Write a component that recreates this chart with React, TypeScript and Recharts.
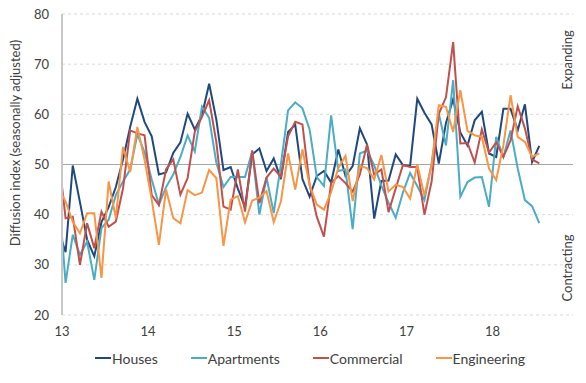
import { LineChart, Line, XAxis, YAxis, CartesianGrid, ReferenceLine, Legend } from 'recharts';

document.body.style.margin = '0';

const font = 'Lato, "Open Sans", sans-serif';
const textColor = '#404040';

// monthly diffusion index readings, first entry is Dec 2012 (just left of the axis, clipped)
const houses = [
  37, 32.5, 49.8, 42.5, 35, 31.7, 38.5, 41.5, 45.5, 51, 57.5, 63.1, 58.5,
  55.6, 48, 48.4, 52.3, 54.4, 60.1, 57, 59.8, 66.1, 59, 48.9, 49.5,
  45.2, 41.5, 52, 53.2, 48.7, 51.2, 47.1, 56.5, 57.9, 47.1, 43.6, 47.7,
  48.7, 46.4, 53, 47.7, 49.7, 57.2, 54, 39.2, 46.7, 46.8, 52, 49.9,
  49.7, 63.1, 60.3, 58, 50.2, 58.3, 63, 56.4, 53.8, 58.8, 60.5, 52.2,
  51.5, 61.1, 61.1, 56.8, 62, 50.5, 53.7,
];
const apartments = [
  45, 26.4, 36, 32, 34.6, 27, 37.3, 39, 43.9, 46.6, 49, 56, 52.5,
  47, 42, 45.5, 48, 51.5, 55.8, 52.6, 61.5, 59.3, 50.4, 45.5, 47.5,
  47.5, 47.5, 52.6, 40, 47.4, 40.3, 50, 60.8, 62.4, 61.2, 57, 47.5,
  45.7, 59.8, 48.7, 49, 37.1, 52.2, 52.8, 49.8, 45.8, 42.4, 39.4, 44.4,
  48.3, 45.7, 42.9, 50.2, 60.1, 53.8, 66.8, 43.6, 46.5, 47.4, 47.5, 41.6,
  55.5, 51.5, 56.8, 49.2, 42.9, 41.7, 38.3,
];
const commercial = [
  52, 39.3, 39.6, 30, 38.3, 33.3, 40.6, 37.6, 38.6, 45.2, 56.8, 56.2, 55.8,
  43.9, 41.9, 49, 51, 44, 47.3, 56.5, 59.5, 62.8, 54.5, 41.6, 41,
  49, 40.6, 52.8, 42.3, 47.4, 49.2, 47.5, 55.6, 58.5, 58, 46, 39.6,
  35.6, 46.3, 47.7, 46.3, 44.6, 48, 54, 48, 49, 40.5, 45.2, 49.9,
  49.5, 49.5, 40, 46.6, 60.1, 63.4, 74.4, 54.2, 54.3, 50.4, 57, 52.4,
  54.4, 51.5, 54.8, 61.6, 57.2, 51, 50.2,
];
const engineering = [
  45.5, 42.6, 38.6, 36.3, 40.3, 40.3, 27.4, 46.6, 39.3, 53.5, 48.5, 57.5, 51,
  43, 34, 45, 39.3, 38.3, 44.9, 43.9, 44.4, 48.9, 47.3, 33.8, 43,
  43.7, 38.5, 42.8, 43.4, 44.7, 38.5, 42.6, 52.2, 45, 53, 45.9, 42,
  41, 44.5, 49.3, 51.7, 42.7, 49.7, 49.3, 47, 51.9, 44.6, 46, 45.5,
  43.2, 50, 43.8, 49.9, 61.8, 61.5, 56.5, 64.8, 56.7, 55.8, 55.5, 49.2,
  46.9, 53.8, 63.8, 55.5, 54.5, 51.5, 52.2,
];

const yearTicks = [0, 12, 24, 36, 48, 60];
const yearLabels = ['13', '14', '15', '16', '17', '18'];
const yTicks = [20, 30, 40, 50, 60, 70, 80];

const series = [
  { key: 'houses', name: 'Houses', color: '#1F497D' },
  { key: 'apartments', name: 'Apartments', color: '#4BACC6' },
  { key: 'commercial', name: 'Commercial', color: '#C0504D' },
  { key: 'engineering', name: 'Engineering', color: '#F79646' },
];

// points sit mid-month; index 0 is Dec 2012
const data = houses.map((h, i) => ({
  month: i - 0.5,
  houses: h,
  apartments: apartments[i],
  commercial: commercial[i],
  engineering: engineering[i],
}));

const LegendRow = () => (
  <div style={{ display: 'flex', alignItems: 'center', height: 24, paddingLeft: 95, fontFamily: font, fontSize: 14, color: textColor }}>
    {series.map((s) => (
      <div key={s.key} style={{ display: 'flex', alignItems: 'center', marginRight: 33 }}>
        <span style={{ display: 'inline-block', width: 16, height: 2, background: s.color, marginRight: 1 }} />
        {s.name}
      </div>
    ))}
  </div>
);

const sideText = (text: string, left: number, top: number) => (
  <div
    style={{
      position: 'absolute', left, top, transform: 'translate(-50%, -50%) rotate(-90deg)',
      whiteSpace: 'nowrap', fontFamily: font, fontSize: 13, color: textColor,
    }}
  >
    {text}
  </div>
);

const App = () => {
  return (
    <div style={{ position: 'relative', width: 586, height: 383, background: '#fff' }}>
      <LineChart width={586} height={383} data={data} margin={{ top: 14, right: 13, left: 0, bottom: 13 }}>
        <CartesianGrid vertical={false} stroke="#d9d9d9" strokeDasharray="3 3" />
        <XAxis
          dataKey="month"
          type="number"
          domain={[0, 71.2]}
          ticks={yearTicks}
          tickFormatter={(v: number) => yearLabels[yearTicks.indexOf(v)]}
          allowDataOverflow
          axisLine={false}
          tickLine={false}
          tickSize={0}
          tickMargin={12}
          height={31}
          tick={{ fill: textColor, fontSize: 13, fontFamily: font }}
        />
        <YAxis
          domain={[20, 80]}
          ticks={yTicks}
          width={62}
          axisLine={{ stroke: '#c8c8c8', strokeWidth: 2 }}
          tickLine={false}
          tickSize={0}
          tickMargin={13}
          tick={{ fill: textColor, fontSize: 13, fontFamily: font }}
        />
        <ReferenceLine y={50} stroke="#a6a6a6" strokeWidth={1} />
        <Legend verticalAlign="bottom" height={24} content={() => <LegendRow />} />
        {series.map((s) => (
          <Line
            key={s.key}
            dataKey={s.key}
            name={s.name}
            stroke={s.color}
            strokeWidth={2}
            dot={false}
            type="linear"
            isAnimationActive={false}
          />
        ))}
      </LineChart>
      {sideText('Diffusion index (seasonally adjusted)', 15, 143)}
      {sideText('Expanding', 567, 60)}
      {sideText('Contracting', 567, 268)}
    </div>
  );
};

export default App;
